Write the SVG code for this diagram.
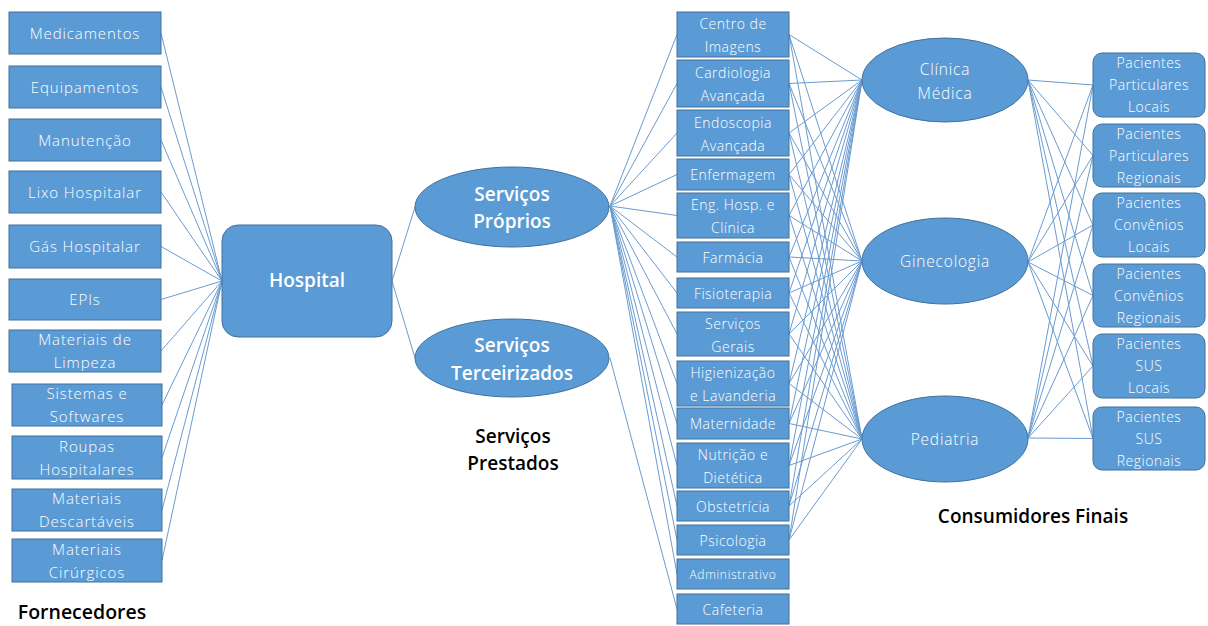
<svg xmlns="http://www.w3.org/2000/svg" width="1208" height="626" viewBox="0 0 1208 626">
  <style>
    .box { fill: #5B9BD5; stroke: #41719C; stroke-width: 1; }
    .t { font-family: "Open Sans", "Liberation Sans", sans-serif; fill: #ffffff; text-anchor: middle; font-weight: 300; }
    .sup { font-size: 15px; letter-spacing: 0.9px; }
    .svc { font-size: 14px; letter-spacing: 0.5px; }
    .sm { font-size: 12px; letter-spacing: 0.7px; }
    .pat { font-size: 14px; letter-spacing: 0.5px; }
    .cli { font-size: 15.5px; letter-spacing: 0.8px; }
    .hub { font-size: 19px; font-weight: 600; }
    .lbl { font-family: "Open Sans", "Liberation Sans", sans-serif; fill: #000000; text-anchor: middle; font-weight: 600; }
    .conn line { stroke: #6A9BD0; stroke-width: 1; fill: none; }
  </style>

  <rect width="1208" height="626" fill="#ffffff"/>

  <!-- connectors -->
  <g id="connectors" class="conn">
    <!-- suppliers to hospital -->
    <line x1="161" y1="33" x2="222" y2="281"/>
    <line x1="161" y1="87" x2="222" y2="281"/>
    <line x1="161" y1="140" x2="222" y2="281"/>
    <line x1="161" y1="192" x2="222" y2="281"/>
    <line x1="161" y1="246.5" x2="222" y2="281"/>
    <line x1="161" y1="299.5" x2="222" y2="281"/>
    <line x1="161" y1="351" x2="222" y2="281"/>
    <line x1="162" y1="405" x2="222" y2="281"/>
    <line x1="162" y1="457.5" x2="222" y2="281"/>
    <line x1="162" y1="510" x2="222" y2="281"/>
    <line x1="162" y1="560.5" x2="222" y2="281"/>
    <!-- hospital to service groups -->
    <line x1="392" y1="281" x2="415" y2="207"/>
    <line x1="392" y1="281" x2="415" y2="358"/>
    <!-- own services -->
    <line x1="610" y1="206" x2="677" y2="34.5"/>
    <line x1="610" y1="206" x2="677" y2="83.5"/>
    <line x1="610" y1="206" x2="677" y2="133"/>
    <line x1="610" y1="206" x2="677" y2="174.5"/>
    <line x1="610" y1="206" x2="677" y2="215.5"/>
    <line x1="610" y1="206" x2="677" y2="257"/>
    <line x1="610" y1="206" x2="677" y2="293"/>
    <line x1="610" y1="206" x2="677" y2="334"/>
    <line x1="610" y1="206" x2="677" y2="383.5"/>
    <line x1="610" y1="206" x2="677" y2="423.5"/>
    <line x1="610" y1="206" x2="677" y2="465.5"/>
    <line x1="610" y1="206" x2="677" y2="506"/>
    <line x1="610" y1="206" x2="677" y2="540"/>
    <line x1="610" y1="206" x2="677" y2="574"/>
    <!-- outsourced services -->
    <line x1="610" y1="358" x2="677" y2="609"/>
    <!-- services to clinics: Clínica Médica -->
    <line x1="789" y1="34.5" x2="862" y2="80"/>
    <line x1="789" y1="83.5" x2="862" y2="80"/>
    <line x1="789" y1="133" x2="862" y2="80"/>
    <line x1="789" y1="174.5" x2="862" y2="80"/>
    <line x1="789" y1="215.5" x2="862" y2="80"/>
    <line x1="789" y1="257" x2="862" y2="80"/>
    <line x1="789" y1="293" x2="862" y2="80"/>
    <line x1="789" y1="334" x2="862" y2="80"/>
    <line x1="789" y1="383.5" x2="862" y2="80"/>
    <line x1="789" y1="423.5" x2="862" y2="80"/>
    <line x1="789" y1="465.5" x2="862" y2="80"/>
    <line x1="789" y1="506" x2="862" y2="80"/>
    <line x1="789" y1="540" x2="862" y2="80"/>
    <!-- services to clinics: Ginecologia -->
    <line x1="789" y1="34.5" x2="862" y2="261"/>
    <line x1="789" y1="83.5" x2="862" y2="261"/>
    <line x1="789" y1="133" x2="862" y2="261"/>
    <line x1="789" y1="174.5" x2="862" y2="261"/>
    <line x1="789" y1="215.5" x2="862" y2="261"/>
    <line x1="789" y1="257" x2="862" y2="261"/>
    <line x1="789" y1="293" x2="862" y2="261"/>
    <line x1="789" y1="334" x2="862" y2="261"/>
    <line x1="789" y1="383.5" x2="862" y2="261"/>
    <line x1="789" y1="423.5" x2="862" y2="261"/>
    <line x1="789" y1="465.5" x2="862" y2="261"/>
    <line x1="789" y1="506" x2="862" y2="261"/>
    <line x1="789" y1="540" x2="862" y2="261"/>
    <!-- services to clinics: Pediatria -->
    <line x1="789" y1="34.5" x2="862" y2="439"/>
    <line x1="789" y1="83.5" x2="862" y2="439"/>
    <line x1="789" y1="133" x2="862" y2="439"/>
    <line x1="789" y1="174.5" x2="862" y2="439"/>
    <line x1="789" y1="215.5" x2="862" y2="439"/>
    <line x1="789" y1="257" x2="862" y2="439"/>
    <line x1="789" y1="293" x2="862" y2="439"/>
    <line x1="789" y1="334" x2="862" y2="439"/>
    <line x1="789" y1="383.5" x2="862" y2="439"/>
    <line x1="789" y1="423.5" x2="862" y2="439"/>
    <line x1="789" y1="465.5" x2="862" y2="439"/>
    <line x1="789" y1="506" x2="862" y2="439"/>
    <line x1="789" y1="540" x2="862" y2="439"/>
    <!-- clinics to patients -->
    <line x1="1028" y1="80" x2="1093" y2="85"/>
    <line x1="1028" y1="80" x2="1093" y2="155.5"/>
    <line x1="1028" y1="80" x2="1093" y2="225"/>
    <line x1="1028" y1="80" x2="1093" y2="295.5"/>
    <line x1="1028" y1="80" x2="1093" y2="366"/>
    <line x1="1028" y1="80" x2="1093" y2="438.5"/>
    <line x1="1028" y1="262" x2="1093" y2="85"/>
    <line x1="1028" y1="262" x2="1093" y2="155.5"/>
    <line x1="1028" y1="262" x2="1093" y2="225"/>
    <line x1="1028" y1="262" x2="1093" y2="295.5"/>
    <line x1="1028" y1="262" x2="1093" y2="366"/>
    <line x1="1028" y1="262" x2="1093" y2="438.5"/>
    <line x1="1028" y1="438" x2="1093" y2="85"/>
    <line x1="1028" y1="438" x2="1093" y2="155.5"/>
    <line x1="1028" y1="438" x2="1093" y2="225"/>
    <line x1="1028" y1="438" x2="1093" y2="295.5"/>
    <line x1="1028" y1="438" x2="1093" y2="366"/>
    <line x1="1028" y1="438" x2="1093" y2="438.5"/>
  </g>

  <!-- suppliers -->
  <g id="sup-medicamentos"><rect class="box" x="9" y="12" width="152" height="42"/><text class="t sup" x="85" y="39">Medicamentos</text></g>
  <g id="sup-equipamentos"><rect class="box" x="9" y="66" width="152" height="42"/><text class="t sup" x="85" y="93">Equipamentos</text></g>
  <g id="sup-manutencao"><rect class="box" x="9" y="119" width="152" height="42"/><text class="t sup" x="85" y="146">Manutenção</text></g>
  <g id="sup-lixo"><rect class="box" x="9" y="171" width="152" height="42"/><text class="t sup" x="85" y="198">Lixo Hospitalar</text></g>
  <g id="sup-gas"><rect class="box" x="9" y="225" width="152" height="43"/><text class="t sup" x="85" y="252">Gás Hospitalar</text></g>
  <g id="sup-epis"><rect class="box" x="9" y="279" width="152" height="41"/><text class="t sup" x="85" y="305">EPIs</text></g>
  <g id="sup-limpeza"><rect class="box" x="9" y="330" width="152" height="42"/><text class="t sup" x="85" y="345">Materiais de</text><text class="t sup" x="85" y="368">Limpeza</text></g>
  <g id="sup-sistemas"><rect class="box" x="12" y="384" width="150" height="42"/><text class="t sup" x="87" y="399">Sistemas e</text><text class="t sup" x="87" y="422">Softwares</text></g>
  <g id="sup-roupas"><rect class="box" x="12" y="436" width="150" height="43"/><text class="t sup" x="87" y="452">Roupas</text><text class="t sup" x="87" y="475">Hospitalares</text></g>
  <g id="sup-descartaveis"><rect class="box" x="12" y="489" width="150" height="42"/><text class="t sup" x="87" y="504">Materiais</text><text class="t sup" x="87" y="527">Descartáveis</text></g>
  <g id="sup-cirurgicos"><rect class="box" x="12" y="539" width="150" height="43"/><text class="t sup" x="87" y="555">Materiais</text><text class="t sup" x="87" y="578">Cirúrgicos</text></g>

  <!-- hospital -->
  <g id="hospital"><rect class="box" x="222" y="225" width="170" height="112" rx="16" ry="16"/><text class="t hub" x="307" y="287">Hospital</text></g>

  <!-- service groups -->
  <g id="servicos-proprios"><ellipse class="box" cx="512" cy="207" rx="97" ry="40"/><text class="t hub" x="512" y="201">Serviços</text><text class="t hub" x="512" y="228">Próprios</text></g>
  <g id="servicos-terceirizados"><ellipse class="box" cx="512" cy="358" rx="97" ry="39"/><text class="t hub" x="512" y="352">Serviços</text><text class="t hub" x="512" y="380">Terceirizados</text></g>

  <!-- services -->
  <g id="svc-imagens"><rect class="box" x="677" y="12" width="112" height="45"/><text class="t svc" x="733" y="29">Centro de</text><text class="t svc" x="733" y="52">Imagens</text></g>
  <g id="svc-cardiologia"><rect class="box" x="677" y="60" width="112" height="47"/><text class="t svc" x="733" y="78">Cardiologia</text><text class="t svc" x="733" y="101">Avançada</text></g>
  <g id="svc-endoscopia"><rect class="box" x="677" y="110" width="112" height="46"/><text class="t svc" x="733" y="127.5">Endoscopia</text><text class="t svc" x="733" y="150.5">Avançada</text></g>
  <g id="svc-enfermagem"><rect class="box" x="677" y="159" width="112" height="31"/><text class="t svc" x="733" y="180">Enfermagem</text></g>
  <g id="svc-engenharia"><rect class="box" x="677" y="193" width="112" height="45"/><text class="t svc" x="733" y="210">Eng. Hosp. e</text><text class="t svc" x="733" y="233">Clínica</text></g>
  <g id="svc-farmacia"><rect class="box" x="677" y="242" width="112" height="30"/><text class="t svc" x="733" y="262.5">Farmácia</text></g>
  <g id="svc-fisioterapia"><rect class="box" x="677" y="278" width="112" height="30"/><text class="t svc" x="733" y="298.5">Fisioterapia</text></g>
  <g id="svc-gerais"><rect class="box" x="677" y="312" width="112" height="44"/><text class="t svc" x="733" y="328.5">Serviços</text><text class="t svc" x="733" y="351.5">Gerais</text></g>
  <g id="svc-higienizacao"><rect class="box" x="677" y="361" width="112" height="45"/><text class="t svc" x="733" y="378">Higienização</text><text class="t svc" x="733" y="401">e Lavanderia</text></g>
  <g id="svc-maternidade"><rect class="box" x="677" y="408" width="112" height="31"/><text class="t svc" x="733" y="429">Maternidade</text></g>
  <g id="svc-nutricao"><rect class="box" x="677" y="443" width="112" height="45"/><text class="t svc" x="733" y="460">Nutrição e</text><text class="t svc" x="733" y="483">Dietética</text></g>
  <g id="svc-obstetricia"><rect class="box" x="677" y="491" width="112" height="30"/><text class="t svc" x="733" y="511.5">Obstetrícia</text></g>
  <g id="svc-psicologia"><rect class="box" x="677" y="525" width="112" height="30"/><text class="t svc" x="733" y="545.5">Psicologia</text></g>
  <g id="svc-administrativo"><rect class="box" x="677" y="559" width="112" height="30"/><text class="t sm" x="733" y="578.5">Administrativo</text></g>
  <g id="svc-cafeteria"><rect class="box" x="677" y="594" width="112" height="30"/><text class="t svc" x="733" y="614.5">Cafeteria</text></g>

  <!-- clinics -->
  <g id="cli-clinica-medica"><ellipse class="box" cx="945" cy="80" rx="83" ry="42"/><text class="t cli" x="945" y="75">Clínica</text><text class="t cli" x="945" y="99">Médica</text></g>
  <g id="cli-ginecologia"><ellipse class="box" cx="945" cy="261" rx="83" ry="43"/><text class="t cli" x="945" y="267">Ginecologia</text></g>
  <g id="cli-pediatria"><ellipse class="box" cx="945" cy="439" rx="83" ry="43"/><text class="t cli" x="945" y="445">Pediatria</text></g>

  <!-- final consumers -->
  <g id="pac-part-locais"><rect class="box" x="1093" y="53" width="112" height="64" rx="9" ry="9"/><text class="t pat" x="1149" y="68">Pacientes</text><text class="t pat" x="1149" y="90">Particulares</text><text class="t pat" x="1149" y="112">Locais</text></g>
  <g id="pac-part-regionais"><rect class="box" x="1093" y="124" width="112" height="63" rx="9" ry="9"/><text class="t pat" x="1149" y="138.5">Pacientes</text><text class="t pat" x="1149" y="160.5">Particulares</text><text class="t pat" x="1149" y="182.5">Regionais</text></g>
  <g id="pac-conv-locais"><rect class="box" x="1093" y="193" width="112" height="64" rx="9" ry="9"/><text class="t pat" x="1149" y="208">Pacientes</text><text class="t pat" x="1149" y="230">Convênios</text><text class="t pat" x="1149" y="252">Locais</text></g>
  <g id="pac-conv-regionais"><rect class="box" x="1093" y="264" width="112" height="63" rx="9" ry="9"/><text class="t pat" x="1149" y="278.5">Pacientes</text><text class="t pat" x="1149" y="300.5">Convênios</text><text class="t pat" x="1149" y="322.5">Regionais</text></g>
  <g id="pac-sus-locais"><rect class="box" x="1093" y="334" width="112" height="64" rx="9" ry="9"/><text class="t pat" x="1149" y="349">Pacientes</text><text class="t pat" x="1149" y="371">SUS</text><text class="t pat" x="1149" y="393">Locais</text></g>
  <g id="pac-sus-regionais"><rect class="box" x="1093" y="407" width="112" height="63" rx="9" ry="9"/><text class="t pat" x="1149" y="421.5">Pacientes</text><text class="t pat" x="1149" y="443.5">SUS</text><text class="t pat" x="1149" y="465.5">Regionais</text></g>

  <!-- column captions -->
  <text class="lbl" x="82" y="619" font-size="19.5">Fornecedores</text>
  <text class="lbl" x="513" y="443" font-size="19">Serviços</text>
  <text class="lbl" x="513" y="470" font-size="19">Prestados</text>
  <text class="lbl" x="1033" y="523" font-size="19">Consumidores Finais</text>
</svg>
